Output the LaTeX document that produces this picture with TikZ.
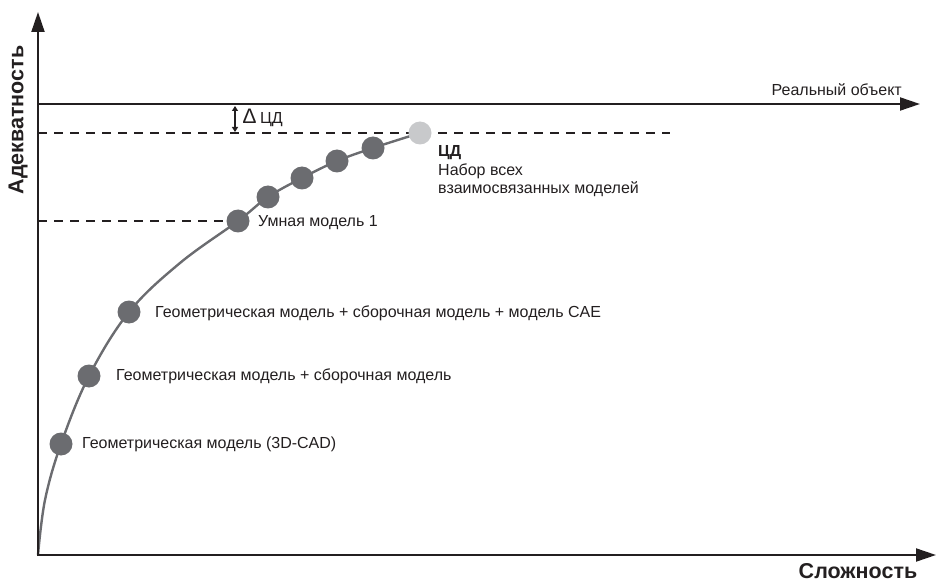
\documentclass[tikz,border=0pt]{standalone}
\usepackage{fontspec}
\setmainfont{Liberation Sans}
\usetikzlibrary{arrows.meta}
\definecolor{dotdark}{HTML}{6B6C70}
\definecolor{dotlight}{HTML}{C8C9CB}
\definecolor{curvecol}{HTML}{6B6C70}
\definecolor{axiscol}{HTML}{231F20}
\tikzset{
  axis/.style={draw=axiscol, line width=2pt, -{Triangle[length=20pt,width=13pt]}},
  dashline/.style={draw=axiscol, line width=1.8pt, dash pattern=on 9pt off 7pt},
  dotnode/.style={circle, fill=dotdark, minimum size=23pt, inner sep=0pt},
  lbl/.style={anchor=west, font=\fontsize{16}{19}\selectfont, text=axiscol, inner sep=0pt},
  axlbl/.style={font=\fontsize{21.5}{24}\selectfont\bfseries, text=axiscol, inner sep=0pt}
}
\begin{document}
\begin{tikzpicture}[x=1pt,y=-1pt]
\useasboundingbox (0,0) rectangle (938,583);
% curve
\draw[curvecol, line width=2.4pt] plot[smooth, tension=0.6] coordinates {(38,555) (45,500) (61,444) (89,376) (129,312) (180,263) (238,221) (268,197) (302,178) (337,161) (373,148) (420,133)};
% axes
\coordinate (O) at (38,555);
\coordinate (Ytop) at (38,12);
\coordinate (Xend) at (936,555);
\draw[axis] (38,556) -- (Ytop);
\draw[axis] (37,555) -- (Xend);
\coordinate (R0) at (38,104);
\coordinate (R1) at (920,104);
\draw[axis] (R0) -- (R1);
\coordinate (D0) at (38,133);
\coordinate (D1) at (670,133);
\draw[dashline] (D0) -- (D1);
\coordinate (E0) at (38,221);
\coordinate (E1) at (232,221);
\draw[dashline] (E0) -- (E1);
% delta arrow
\coordinate (A0) at (235,106);
\coordinate (A1) at (235,132);
\draw[axiscol, line width=1.2pt, {Triangle[length=5pt,width=6pt]}-{Triangle[length=5pt,width=6pt]}] (A0) -- (A1);
\node[lbl] (dl) at (243,118) {{\fontsize{21}{21}\selectfont ∆}\kern4pt ЦД};
% dots
\node[dotnode] (d1) at (61,444) {};
\node[dotnode] (d2) at (89,376) {};
\node[dotnode] (d3) at (129,312) {};
\node[dotnode] (d4) at (238,221) {};
\node[dotnode] (d5) at (268,197) {};
\node[dotnode] (d6) at (302,178) {};
\node[dotnode] (d7) at (337,161) {};
\node[dotnode] (d8) at (373,148) {};
\node[dotnode, fill=dotlight] (d9) at (420,133) {};
% labels
\node[lbl] (l1) at (82,444) {Геометрическая модель (3D-CAD)};
\node[lbl] (l2) at (116,376) {Геометрическая модель + сборочная модель};
\node[lbl] (l3) at (155,313) {Геометрическая модель + сборочная модель + модель CAE};
\node[lbl] (l4) at (258,223) {Умная модель 1};
\node[lbl, font=\fontsize{16}{19}\selectfont\bfseries] (l5) at (438,153) {ЦД};
\node[lbl] (l6) at (438,171) {Набор всех};
\node[lbl] (l7) at (438,189) {взаимосвязанных моделей};
\node[lbl, anchor=east] (ro) at (902,90) {Реальный объект};
\node[axlbl, rotate=90] (ya) at (18,120) {Адекватность};
\node[axlbl] (xa) at (858,571) {Сложность};
\end{tikzpicture}
\end{document}
